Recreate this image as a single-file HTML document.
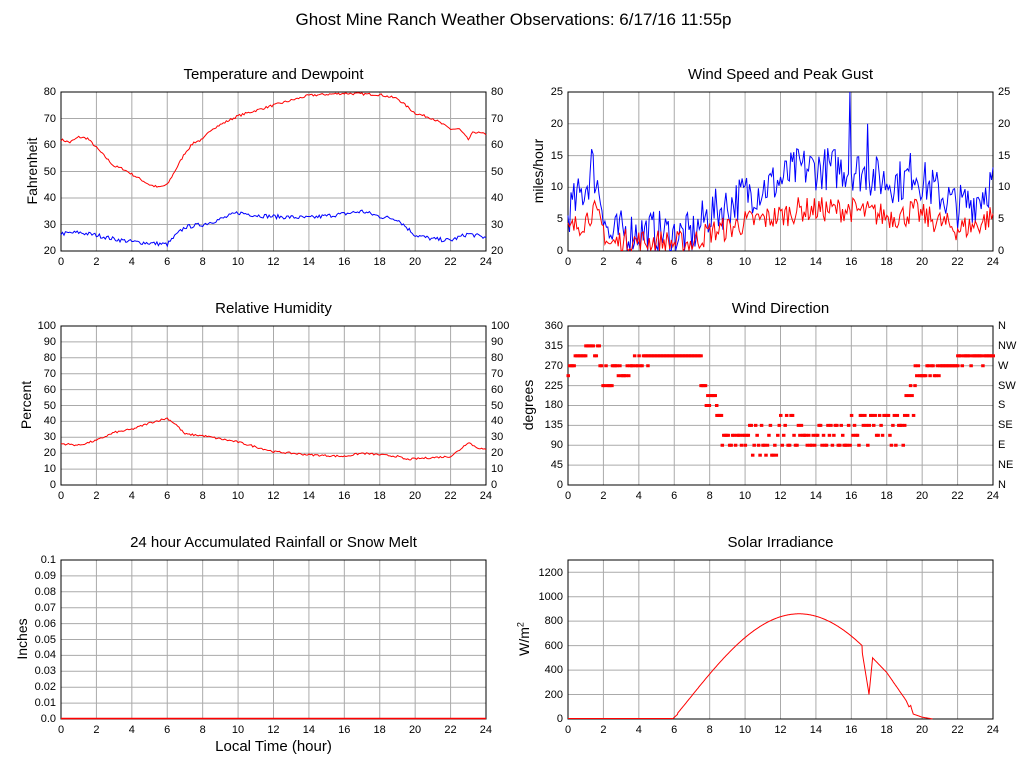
<!DOCTYPE html>
<html><head><meta charset="utf-8"><style>
body{margin:0;width:1027px;height:772px;background:#fff;position:relative;overflow:hidden;font-family:"Liberation Sans",sans-serif;color:#000}
.t{position:absolute;white-space:nowrap}
.xl{position:absolute;display:flex;font-size:11px;height:14px}
.xl span{width:35.417px;text-align:center;flex:none}
.yl{position:absolute;display:flex;flex-direction:column;font-size:11px;width:40px}
.yl span{flex:1;display:flex;align-items:center;justify-content:flex-end}
.yr{position:absolute;display:flex;flex-direction:column;font-size:11px;width:40px}
.yr span{flex:1;display:flex;align-items:center;justify-content:flex-start}
.ti{font-size:15px;text-align:center;width:425px}
.ax{font-size:14px;transform:rotate(-90deg);transform-origin:center;width:100px;text-align:center;height:18px;line-height:18px}
svg{position:absolute;left:0;top:0}
</style></head><body>
<svg id="s" width="1027" height="772"></svg>
<div class="t" style="left:0;width:1027px;text-align:center;top:10px;font-size:17px">Ghost Mine Ranch Weather Observations: 6/17/16 11:55p</div>

<div class="t ti" style="left:61px;top:66px">Temperature and Dewpoint</div>
<div class="t ti" style="left:568px;top:66px">Wind Speed and Peak Gust</div>
<div class="t ti" style="left:61px;top:300px">Relative Humidity</div>
<div class="t ti" style="left:568px;top:300px">Wind Direction</div>
<div class="t ti" style="left:61px;top:534px">24 hour Accumulated Rainfall or Snow Melt</div>
<div class="t ti" style="left:568px;top:534px">Solar Irradiance</div>

<div class="t ax" style="left:-18px;top:162px">Fahrenheit</div>
<div class="t ax" style="left:488px;top:162px">miles/hour</div>
<div class="t ax" style="left:-24px;top:396px">Percent</div>
<div class="t ax" style="left:478px;top:396px">degrees</div>
<div class="t ax" style="left:-28px;top:630px">Inches</div>
<div class="t ax" style="left:474px;top:630px">W/m<sup style="font-size:9px;line-height:0">2</sup></div>
<div class="t" style="left:61px;width:425px;text-align:center;top:738px;font-size:15px">Local Time (hour)</div>

<div class="xl" style="left:43.3px;top:256px"><span>0</span><span>2</span><span>4</span><span>6</span><span>8</span><span>10</span><span>12</span><span>14</span><span>16</span><span>18</span><span>20</span><span>22</span><span>24</span></div>
<div class="xl" style="left:550.3px;top:256px"><span>0</span><span>2</span><span>4</span><span>6</span><span>8</span><span>10</span><span>12</span><span>14</span><span>16</span><span>18</span><span>20</span><span>22</span><span>24</span></div>
<div class="xl" style="left:43.3px;top:490px"><span>0</span><span>2</span><span>4</span><span>6</span><span>8</span><span>10</span><span>12</span><span>14</span><span>16</span><span>18</span><span>20</span><span>22</span><span>24</span></div>
<div class="xl" style="left:550.3px;top:490px"><span>0</span><span>2</span><span>4</span><span>6</span><span>8</span><span>10</span><span>12</span><span>14</span><span>16</span><span>18</span><span>20</span><span>22</span><span>24</span></div>
<div class="xl" style="left:43.3px;top:724px"><span>0</span><span>2</span><span>4</span><span>6</span><span>8</span><span>10</span><span>12</span><span>14</span><span>16</span><span>18</span><span>20</span><span>22</span><span>24</span></div>
<div class="xl" style="left:550.3px;top:724px"><span>0</span><span>2</span><span>4</span><span>6</span><span>8</span><span>10</span><span>12</span><span>14</span><span>16</span><span>18</span><span>20</span><span>22</span><span>24</span></div>

<div class="yl" style="left:16px;top:78.75px;height:185.5px"><span>80</span><span>70</span><span>60</span><span>50</span><span>40</span><span>30</span><span>20</span></div>
<div class="yr" style="left:491px;top:78.75px;height:185.5px"><span>80</span><span>70</span><span>60</span><span>50</span><span>40</span><span>30</span><span>20</span></div>
<div class="yl" style="left:523px;top:76.1px;height:190.8px"><span>25</span><span>20</span><span>15</span><span>10</span><span>5</span><span>0</span></div>
<div class="yr" style="left:998px;top:76.1px;height:190.8px"><span>25</span><span>20</span><span>15</span><span>10</span><span>5</span><span>0</span></div>
<div class="yl" style="left:16px;top:318.05px;height:174.9px"><span>100</span><span>90</span><span>80</span><span>70</span><span>60</span><span>50</span><span>40</span><span>30</span><span>20</span><span>10</span><span>0</span></div>
<div class="yr" style="left:491px;top:318.05px;height:174.9px"><span>100</span><span>90</span><span>80</span><span>70</span><span>60</span><span>50</span><span>40</span><span>30</span><span>20</span><span>10</span><span>0</span></div>
<div class="yl" style="left:523px;top:316.06px;height:178.9px"><span>360</span><span>315</span><span>270</span><span>225</span><span>180</span><span>135</span><span>90</span><span>45</span><span>0</span></div>
<div class="yr" style="left:998px;top:316.06px;height:178.9px"><span>N</span><span>NW</span><span>W</span><span>SW</span><span>S</span><span>SE</span><span>E</span><span>NE</span><span>N</span></div>
<div class="yl" style="left:16px;top:552.05px;height:174.9px"><span>0.1</span><span>0.09</span><span>0.08</span><span>0.07</span><span>0.06</span><span>0.05</span><span>0.04</span><span>0.03</span><span>0.02</span><span>0.01</span><span>0.0</span></div>
<div class="yl" style="left:523px;top:560.3px;height:171.2px"><span>1200</span><span>1000</span><span>800</span><span>600</span><span>400</span><span>200</span><span>0</span></div>

<script>
var S=document.getElementById('s'),NS='http://www.w3.org/2000/svg';
function el(n,a){var e=document.createElementNS(NS,n);for(var k in a)e.setAttribute(k,a[k]);S.appendChild(e);return e}
var seed=7;function rnd(){seed=(seed*16807)%2147483647;return seed/2147483647}
var W=425,H=159;
function panel(L,T,lo,hi,step){
 for(var i=1;i<12;i++){var x=L+W*i/12;el('line',{x1:x,y1:T,x2:x,y2:T+H,stroke:'#aaa','stroke-width':1})}
 for(var v=lo+step;v<hi-1e-9;v+=step){var y=T+H-(v-lo)/(hi-lo)*H;el('line',{x1:L,y1:y,x2:L+W,y2:y,stroke:'#aaa','stroke-width':1})}
 var p={L:L,T:T,lo:lo,hi:hi};
 el('rect',{x:L,y:T,width:W,height:H,fill:'none',stroke:'#000','stroke-width':1});
 return p;
}
function interp(pts,t){for(var i=1;i<pts.length;i++){if(t<=pts[i][0]){var a=pts[i-1],b=pts[i];return a[1]+(b[1]-a[1])*(t-a[0])/(b[0]-a[0])}}return pts[pts.length-1][1]}
function line(p,fn,col,n){var d='';n=n||288;for(var i=0;i<=n;i++){var t=24*i/n,v=fn(t);v=Math.max(p.lo,Math.min(p.hi,v));var x=p.L+W*t/24,y=p.T+H-(v-p.lo)/(p.hi-p.lo)*H;if(v<=p.lo)y-=0.5;d+=(i?'L':'M')+x.toFixed(1)+' '+y.toFixed(1)}el('path',{d:d,fill:'none',stroke:col,'stroke-width':1})}
var p=panel(61,92,20,80,10);
var tr=[[0,62],[0.5,61],[1,63],[1.5,62.5],[2,59],[3,52],[3.5,51],[4,49],[5,45],[5.5,44],[6,45],[7,57],[7.5,61],[8,62],[8.5,66],[10,71],[12,75],[14,78.7],[16,79.5],[18,79],[19,77.5],[20,72],[21,70],[22,66],[22.5,66],[23,62],[23.3,65],[24,64]];
var td=[[0,26.5],[1,27],[2,26],[3,24.5],[4,23.5],[5,23],[6,22.5],[6.5,26],[7,29],[8,30],[9,32],[10,34.5],[11,33.5],[12,33],[14,32.5],[16,34],[17,35],[18,33],[19,32],[20,26],[21,24.5],[22,24],[23,26.5],[24,25]];
line(p,function(t){return interp(tr,t)+(rnd()-.5)*0.9},'#f00');
line(p,function(t){return interp(td,t)+(rnd()-.5)*1.6},'#00f');
p=panel(568,92,0,25,5);
var gb=[[0,6],[1,10],[1.4,13],[2,7],[2.3,2],[3,3],[5,3],[6,2.5],[7,2.5],[8,6],[9,7],[10,9],[12,11],[13,13],[14,13],[16,13],[17,12],[18,11],[19,11],[19.5,13],[20,11],[21,9],[22,7],[23,8],[24,11]];
var G=[];for(var i=0;i<=288;i++){var t=24*i/288;var v=interp(gb,t)+(rnd()-.5)*7;if(Math.abs(t-15.9)<0.05)v=25;if(Math.abs(t-16.9)<0.05)v=20;if(Math.abs(t-1.3)<0.05)v=16;G.push(Math.max(0,v))}
line(p,function(t){return G[Math.round(t/24*288)]},'#00f');
line(p,function(t){var v=interp(gb,t)*0.5+(rnd()-.5)*4;return Math.max(0,v)},'#f00');
p=panel(61,326,0,100,10);
var rh=[[0,26],[1,25],[2,28],[3,33],[4,35],[5,39],[6,42],[6.5,38],[7,32],[8,31],[9,29],[10,27],[11,24],[12,21],[13,20],[14,19],[15,18.5],[16,18],[17,20],[18,19],[19,18],[19.5,16],[20,16.5],[22,18],[22.5,22],[23,27],[23.4,24],[24,22]];
line(p,function(t){return interp(rh,t)+(rnd()-.5)*1.2},'#f00');
p=panel(568,326,0,360,45);
var segs=[[0,0.4,[270,270,247.5]],[0.4,1,[292.5]],[1,1.8,[315,315,292.5]],[1.8,2.5,[270,247.5,225]],[2.5,3.5,[247.5,270]],[3.5,4.5,[270,292.5]],[4.5,7.5,[292.5]],[7.5,7.8,[225]],[7.8,8.4,[180,202.5]],[8.4,8.7,[157.5]],[8.7,10,[112.5,90,112.5]],[10,12,[112.5,90,135,67.5]],[12,13,[112.5,90,135,157.5]],[13,16,[90,90,112.5,135]],[16,19,[112.5,90,135,157.5]],[19,19.6,[225,202.5,157.5]],[19.6,21,[247.5,270,247.5]],[21,22,[270,270]],[22,24,[292.5,270,292.5]]];
segs.forEach(function(s){for(var t=s[0];t<s[1];t+=1/12){var v=s[2][Math.floor(rnd()*s[2].length)];var x=568+W*t/24,y=326+H-v/360*H;el('rect',{x:x-1.5,y:y-1.5,width:3.5,height:3,fill:'#f00'})}});
p=panel(61,560,0,0.1,0.01);
el('line',{x1:61,y1:718.5,x2:486,y2:718.5,stroke:'#f00','stroke-width':1.5});
p=panel(568,560,0,1300,200);
line(p,function(t){
 if(t<5.9||t>20.6)return 0;
 var b=860*Math.pow(Math.sin(Math.PI*(t-5.9)/14.3),1.05);
 if(t<6.2)return (t-5.9)/0.3*40;
 if(t>16.6&&t<17.2){if(t<17.0)return interp([[16.6,560],[17.0,200]],t);return interp([[17.0,200],[17.2,500]],t)}
 if(t>=17.2&&t<20.6)return interp([[17.2,500],[18,380],[19.1,150],[19.25,100],[19.35,110],[19.5,40],[20,15],[20.6,0]],t);
 return b;},'#f00',1440);
</script>
</body></html>
